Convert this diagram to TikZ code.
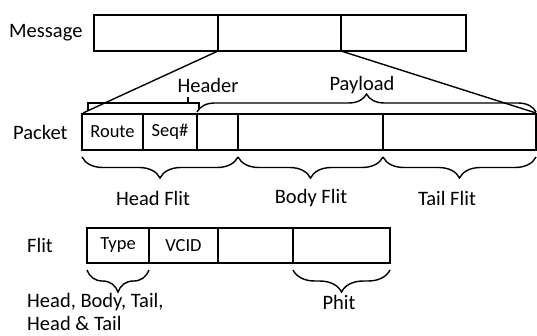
\documentclass[tikz,border=0pt]{standalone}
\usepackage{fontspec}
\setmainfont{Carlito}
\usetikzlibrary{decorations.pathreplacing}
\begin{document}
\begin{tikzpicture}[x=1pt,y=-1pt,
  cell/.style={draw, line width=1.4pt, inner sep=0pt, outer sep=0pt, font=\fontsize{18.5}{21}\selectfont},
  lbl/.style={inner sep=0pt, font=\fontsize{20.5}{24}\selectfont},
  conn/.style={line width=1.4pt},
  brc/.style={line width=1.4pt, decorate, decoration={brace, amplitude=#1}}]
\useasboundingbox (0,0) rectangle (537,336);
% Message
\node[cell, minimum width=124pt, minimum height=36pt] (m1) at (156,33) {};
\node[cell, minimum width=123pt, minimum height=36pt] (m2) at (279.5,33) {};
\node[cell, minimum width=125pt, minimum height=36pt] (m3) at (403.5,33) {};
\node[lbl, anchor=west] (lmsg) at (9,33) {Message};
% Packet
\node[cell, minimum width=61pt, minimum height=36pt] (p1) at (112.5,132) {\raisebox{-1pt}{Route}};
\node[cell, minimum width=54pt, minimum height=36pt] (p2) at (170,132) {\raisebox{-1pt}{Seq\#}};
\node[cell, minimum width=41pt, minimum height=36pt] (p3) at (217.5,132) {};
\node[cell, minimum width=145pt, minimum height=36pt] (p4) at (310.5,132) {};
\node[cell, minimum width=153pt, minimum height=36pt] (p5) at (459.5,132) {};
\node[lbl, anchor=west] (lpkt) at (13,132) {Packet};
% Flit
\node[cell, minimum width=62pt, minimum height=35pt] (f1) at (118,245.5) {\raisebox{-1pt}{Type}};
\node[cell, minimum width=69pt, minimum height=35pt] (f2) at (183.5,245.5) {\raisebox{-1pt}{VCID}};
\node[cell, minimum width=75pt, minimum height=35pt] (f3) at (255.5,245.5) {};
\node[cell, minimum width=97pt, minimum height=35pt] (f4) at (341.5,245.5) {};
\node[lbl, anchor=west] (lflit) at (27,245.5) {Flit};
% expansion lines
\draw[conn] (m1.south east) -- ([xshift=1pt,yshift=1pt]p1.north west);
\draw[conn] (m2.south east) -- ([yshift=1pt]p5.north east);
% Header bracket
\draw[line width=1.4pt] (88,110) -- (88,103) -- (199,103) -- (199,110);
\draw[line width=1.4pt] (188,103) -- (188,97);
\node[lbl] (lhdr) at (208,85) {Header};
% Payload brace
\draw[brc=18pt] ([yshift=2pt]p3.north west) -- ([yshift=2pt]p5.north east);
\node[lbl] (lpay) at (362,85) {Payload};
% packet braces
\draw[brc=21pt] ([yshift=-7pt]p3.south east) -- ([yshift=-7pt]p1.south west);
\draw[brc=21pt] ([yshift=-7pt]p4.south east) -- ([yshift=-7pt]p4.south west);
\draw[brc=21pt] ([yshift=-7pt]p5.south east) -- ([yshift=-7pt]p5.south west);
\node[lbl] (lhead) at (153,198) {Head Flit};
\node[lbl] (lbody) at (311,198) {Body Flit};
\node[lbl] (ltail) at (447,198) {Tail Flit};
% flit braces
\draw[brc=22pt] ([yshift=-7pt]f1.south east) -- ([yshift=-7pt]f1.south west);
\draw[brc=22pt] ([yshift=-7pt]f4.south east) -- ([yshift=-7pt]f4.south west);
\node[lbl, anchor=west] (ltype1) at (27,302) {Head, Body, Tail,};
\node[lbl, anchor=west] (ltype2) at (27,323.5) {Head \& Tail};
\node[lbl] (lphit) at (339,302) {Phit};
\end{tikzpicture}
\end{document}
